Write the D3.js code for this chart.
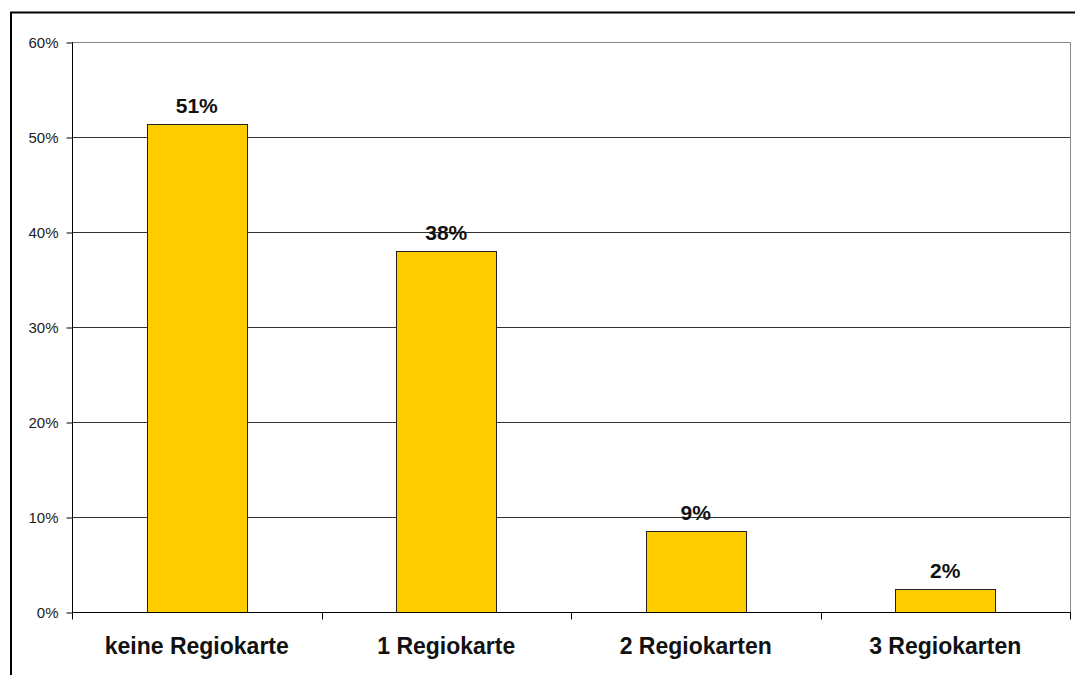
<!DOCTYPE html>
<html>
<head>
<meta charset="utf-8">
<script src="https://cdn.jsdelivr.net/npm/d3@7/dist/d3.min.js"></script>
<style>
  html, body { margin: 0; padding: 0; background: #fff; }
  svg { display: block; font-family: Arial, "Liberation Sans", sans-serif; }
</style>
</head>
<body>
<svg id="chart" width="1075" height="675"></svg>
<script>
// Number of Regiokarten held (share of respondents, in percent)
const categories = ["keine Regiokarte", "1 Regiokarte", "2 Regiokarten", "3 Regiokarten"];
const shares = [51.4, 38.0, 8.5, 2.4];
const yTicks = [0, 10, 20, 30, 40, 50, 60];

const svg = d3.select("#chart");
const W = 1075, H = 675;
const plot = { left: 72, right: 1070, top: 42, bottom: 612 };

// outer frame (continues past the right and bottom edges)
svg.append("rect")
  .attr("x", 11).attr("y", 12.5)
  .attr("width", W + 10).attr("height", H + 10)
  .attr("fill", "none").attr("stroke", "#000").attr("stroke-width", 2);

const x = d3.scaleBand()
  .domain(categories)
  .range([plot.left, plot.right])
  .paddingInner(0.6).paddingOuter(0.3);

const y = d3.scaleLinear().domain([0, 60]).range([plot.bottom, plot.top]);

// horizontal gridlines
svg.append("g")
  .selectAll("line")
  .data(yTicks.filter(t => t > 0 && t < 60))
  .join("line")
  .attr("x1", plot.left).attr("x2", plot.right)
  .attr("y1", d => Math.round(y(d)) + 0.5).attr("y2", d => Math.round(y(d)) + 0.5)
  .attr("stroke", "#333").attr("stroke-width", 1);

// plot area border (top and right)
svg.append("path")
  .attr("d", `M${plot.left},${plot.top + 0.5}H${plot.right + 0.5}V${plot.bottom}`)
  .attr("fill", "none").attr("stroke", "#888").attr("stroke-width", 1);

// bars
svg.append("g")
  .selectAll("rect")
  .data(categories.map((c, i) => ({ c, v: shares[i] })))
  .join("rect")
  .attr("x", d => Math.round(x(d.c)) + 0.5)
  .attr("y", d => Math.round(y(d.v)) + 0.5)
  .attr("width", d => Math.round(x.bandwidth()))
  .attr("height", d => Math.round(y(0)) - Math.round(y(d.v)))
  .attr("fill", "#FFCC00").attr("stroke", "#222").attr("stroke-width", 1);

// value labels
svg.append("g")
  .selectAll("text")
  .data(categories.map((c, i) => ({ c, v: shares[i] })))
  .join("text")
  .attr("x", d => x(d.c) + x.bandwidth() / 2)
  .attr("y", d => y(d.v) - 11)
  .attr("text-anchor", "middle")
  .attr("font-size", 21).attr("font-weight", "bold").attr("fill", "#111")
  .text(d => Math.round(d.v) + "%");

// y axis
const yAxis = d3.axisLeft(y)
  .tickValues(yTicks)
  .tickSize(6).tickPadding(8)
  .tickFormat(d => d + "%");
const gy = svg.append("g")
  .attr("transform", `translate(${plot.left + 0.5},0.5)`)
  .call(yAxis);
gy.select(".domain").attr("stroke", "#000").attr("d", `M0,${plot.top}V${plot.bottom}`);
gy.selectAll(".tick line").attr("stroke", "#000");
gy.selectAll(".tick text")
  .attr("font-size", 15).attr("fill", "#222").attr("font-family", "Arial, 'Liberation Sans', sans-serif");

// x axis: baseline, category separators and labels
const step = (plot.right - plot.left) / categories.length;
const gx = svg.append("g").attr("transform", `translate(0,${plot.bottom + 0.5})`);
gx.append("line")
  .attr("x1", plot.left).attr("x2", plot.right + 1)
  .attr("stroke", "#000");
gx.selectAll("line.sep")
  .data(d3.range(categories.length + 1))
  .join("line")
  .attr("class", "sep")
  .attr("x1", i => Math.round(plot.left + i * step) + 0.5)
  .attr("x2", i => Math.round(plot.left + i * step) + 0.5)
  .attr("y1", 0).attr("y2", 7)
  .attr("stroke", "#000");
gx.selectAll("text")
  .data(categories)
  .join("text")
  .attr("x", d => x(d) + x.bandwidth() / 2)
  .attr("y", 41)
  .attr("text-anchor", "middle")
  .attr("font-size", 23).attr("font-weight", "bold").attr("fill", "#111")
  .text(d => d);
</script>
</body>
</html>
